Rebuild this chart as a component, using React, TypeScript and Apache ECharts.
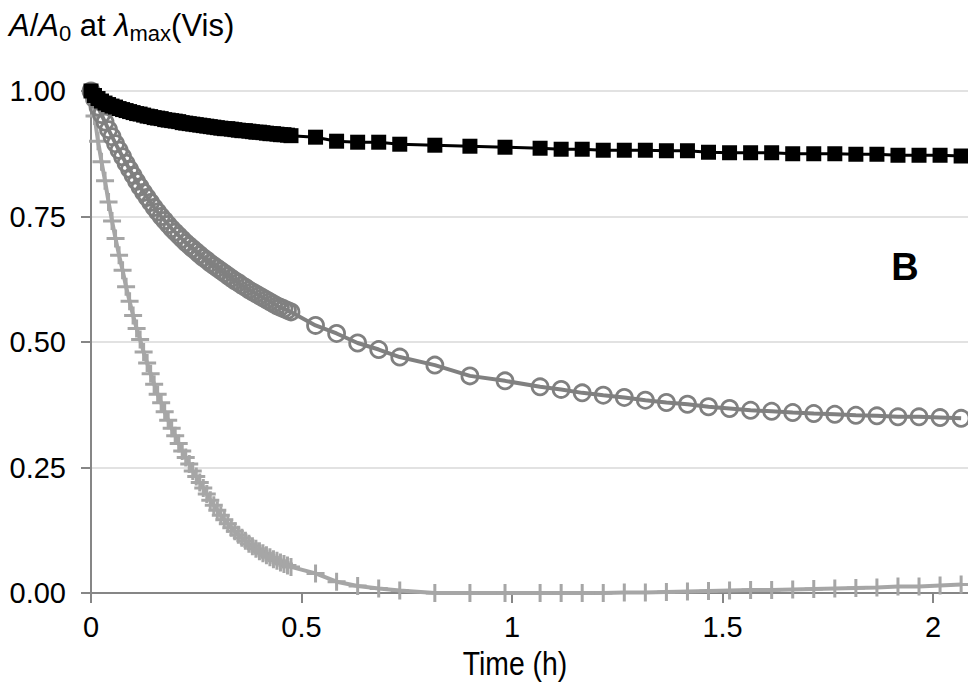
import React, { useEffect, useRef } from "react";
import * as echarts from "echarts";

// Time of each measurement, in minutes
const timeMin = [
  0, 0.5, 1, 1.5, 2, 2.5, 3, 3.5, 4, 4.5,
  5, 5.5, 6, 6.5, 7, 7.5, 8, 8.5, 9, 9.5,
  10, 10.5, 11, 11.5, 12, 12.5, 13, 13.5, 14, 14.5,
  15, 15.5, 16, 16.5, 17, 17.5, 18, 18.5, 19, 19.5,
  20, 20.5, 21, 21.5, 22, 22.5, 23, 23.5, 24, 24.5,
  25, 25.5, 26, 26.5, 27, 27.5, 28, 28.5,
  32, 35, 38, 41, 44, 49, 54, 59, 64, 67,
  70, 73, 76, 79, 82, 85, 88, 91, 94, 97,
  100, 103, 106, 109, 112, 115, 118, 121, 124,
];

// Black filled squares
const squares = [
  1.0, 0.991, 0.985, 0.98, 0.976, 0.973, 0.97, 0.968, 0.965, 0.963,
  0.961, 0.959, 0.957, 0.955, 0.954, 0.952, 0.95, 0.949, 0.947, 0.946,
  0.945, 0.943, 0.942, 0.941, 0.94, 0.939, 0.937, 0.936, 0.935, 0.934,
  0.933, 0.932, 0.931, 0.93, 0.929, 0.928, 0.927, 0.926, 0.925, 0.925,
  0.924, 0.923, 0.922, 0.921, 0.921, 0.92, 0.919, 0.918, 0.918, 0.917,
  0.916, 0.915, 0.915, 0.914, 0.913, 0.913, 0.912, 0.911,
  0.908, 0.9, 0.898, 0.898, 0.894, 0.892, 0.89, 0.888, 0.886, 0.884,
  0.884, 0.882, 0.882, 0.882, 0.881, 0.881, 0.878, 0.877, 0.877, 0.877,
  0.875, 0.875, 0.875, 0.874, 0.874, 0.872, 0.872, 0.872, 0.8705,
];

// Grey open circles
const circles = [
  1.0, 0.984, 0.968, 0.953, 0.938, 0.923, 0.909, 0.895, 0.882, 0.869,
  0.856, 0.844, 0.832, 0.82, 0.809, 0.798, 0.788, 0.778, 0.768, 0.759,
  0.75, 0.742, 0.734, 0.726, 0.719, 0.712, 0.705, 0.698, 0.692, 0.686,
  0.68, 0.674, 0.668, 0.663, 0.657, 0.652, 0.647, 0.642, 0.637, 0.632,
  0.627, 0.622, 0.618, 0.613, 0.609, 0.604, 0.6, 0.596, 0.592, 0.588,
  0.584, 0.58, 0.576, 0.572, 0.569, 0.566, 0.563, 0.56,
  0.533, 0.517, 0.498, 0.485, 0.47, 0.454, 0.4325, 0.4226, 0.4107, 0.4055,
  0.3987, 0.394, 0.3895, 0.384, 0.3795, 0.376, 0.371, 0.3675, 0.364, 0.362,
  0.3595, 0.3575, 0.356, 0.354, 0.353, 0.351, 0.351, 0.3495, 0.348,
];

// Light grey crosses
const crosses = [
  1.0, 0.95, 0.9, 0.859, 0.821, 0.779, 0.741, 0.706, 0.673, 0.643,
  0.61, 0.581, 0.553, 0.527, 0.505, 0.48, 0.458, 0.437, 0.416, 0.396,
  0.379, 0.361, 0.344, 0.328, 0.313, 0.298, 0.283, 0.27, 0.257, 0.243,
  0.232, 0.22, 0.209, 0.197, 0.185, 0.175, 0.165, 0.155, 0.146, 0.138,
  0.13, 0.123, 0.116, 0.11, 0.104, 0.098, 0.093, 0.088, 0.083, 0.079,
  0.075, 0.071, 0.067, 0.064, 0.061, 0.058, 0.055, 0.052,
  0.039, 0.0225, 0.014, 0.009, 0.005, 0.0, 0.0, 0.0, 0.0, 0.0,
  0.0, 0.0, 0.001, 0.001, 0.002, 0.003, 0.004, 0.005, 0.006, 0.006,
  0.007, 0.008, 0.009, 0.01, 0.011, 0.013, 0.013, 0.015, 0.017,
];

const xTickLabels = ["0", "0.5", "1", "1.5", "2"];
const yTickLabels = ["0.00", "0.25", "0.50", "0.75", "1.00"];

const FONT = '"Liberation Sans", Arial, sans-serif';
const PLUS = "path://M7.5,0H10.5V7.5H18V10.5H10.5V18H7.5V10.5H0V7.5H7.5Z";

export default function App() {
  const ref = useRef<HTMLDivElement>(null);

  useEffect(() => {
    if (!ref.current) return;
    const chart = echarts.init(ref.current, undefined, { renderer: "svg" });
    const toHours = (vals: number[]) => timeMin.map((m, i) => [m / 60, vals[i]]);

    chart.setOption({
      animation: false,
      backgroundColor: "#ffffff",
      grid: { left: 91, right: 0, top: 91, bottom: 89, containLabel: false },
      xAxis: {
        type: "value",
        min: 0,
        max: 2.083,
        interval: 0.5,
        axisLine: { show: true, lineStyle: { color: "#868686", width: 2 } },
        axisTick: { show: true, length: 10, lineStyle: { color: "#868686", width: 2 } },
        splitLine: { show: false },
        axisLabel: {
          showMaxLabel: false,
          margin: 19,
          color: "#000",
          fontSize: 29,
          fontFamily: FONT,
          formatter: (v: number) => {
            const idx = Math.round(v / 0.5);
            return Math.abs(v - idx * 0.5) < 1e-6 && xTickLabels[idx] !== undefined ? xTickLabels[idx] : "";
          },
        },
      },
      yAxis: {
        type: "value",
        min: 0,
        max: 1,
        interval: 0.25,
        axisLine: { show: true, lineStyle: { color: "#868686", width: 2 } },
        axisTick: { show: true, length: 10, lineStyle: { color: "#868686", width: 2 } },
        splitLine: { show: true, lineStyle: { color: "#d9d9d9", width: 1.5 } },
        axisLabel: {
          margin: 25,
          color: "#000",
          fontSize: 29,
          fontFamily: FONT,
          formatter: (v: number) => yTickLabels[Math.round(v / 0.25)] ?? "",
        },
      },
      series: [
        {
          type: "line",
          name: "crosses",
          data: toHours(crosses),
          clip: false,
          symbol: PLUS,
          symbolSize: 18,
          symbolKeepAspect: true,
          itemStyle: { color: "#a6a6a6" },
          lineStyle: { color: "#a6a6a6", width: 4 },
          z: 2,
        },
        {
          type: "line",
          name: "circles",
          data: toHours(circles),
          clip: false,
          symbol: "circle",
          symbolSize: 16,
          itemStyle: { color: "rgba(0,0,0,0)", borderColor: "#808080", borderWidth: 2.8 },
          lineStyle: { color: "#808080", width: 4 },
          z: 3,
        },
        {
          type: "line",
          name: "squares",
          data: toHours(squares),
          clip: false,
          symbol: "rect",
          symbolSize: 15,
          itemStyle: { color: "#000000" },
          lineStyle: { color: "#000000", width: 3 },
          z: 4,
        },
      ],
      graphic: [
        {
          type: "text",
          left: 9,
          top: 10,
          style: {
            text: "{i|A}{n|/}{i|A}{s|0}{n| at }{i|λ}{s|max}{n|(Vis)}",
            rich: {
              n: { fontSize: 31, fontFamily: FONT, fill: "#000", lineHeight: 38, verticalAlign: "middle" },
              i: { fontSize: 31, fontFamily: FONT, fontStyle: "italic", fill: "#000", lineHeight: 38, verticalAlign: "middle" },
              s: { fontSize: 22, fontFamily: FONT, fill: "#000", lineHeight: 22, verticalAlign: "bottom" },
            },
          },
        },
        {
          type: "text",
          x: 905,
          y: 267,
          style: {
            text: "B",
            fontSize: 38,
            fontWeight: "bold",
            fontFamily: FONT,
            fill: "#000",
            align: "center",
            verticalAlign: "middle",
          },
        },
        {
          type: "text",
          x: 515,
          y: 664,
          scaleX: 0.86,
          style: {
            text: "Time (h)",
            fontSize: 33,
            fontFamily: FONT,
            fill: "#000",
            align: "center",
            verticalAlign: "middle",
          },
        },
      ],
    });
    return () => chart.dispose();
  }, []);

  return (
    <div
      ref={ref}
      style={{ position: "fixed", left: 0, top: 0, width: 968, height: 682, background: "#fff" }}
    />
  );
}
